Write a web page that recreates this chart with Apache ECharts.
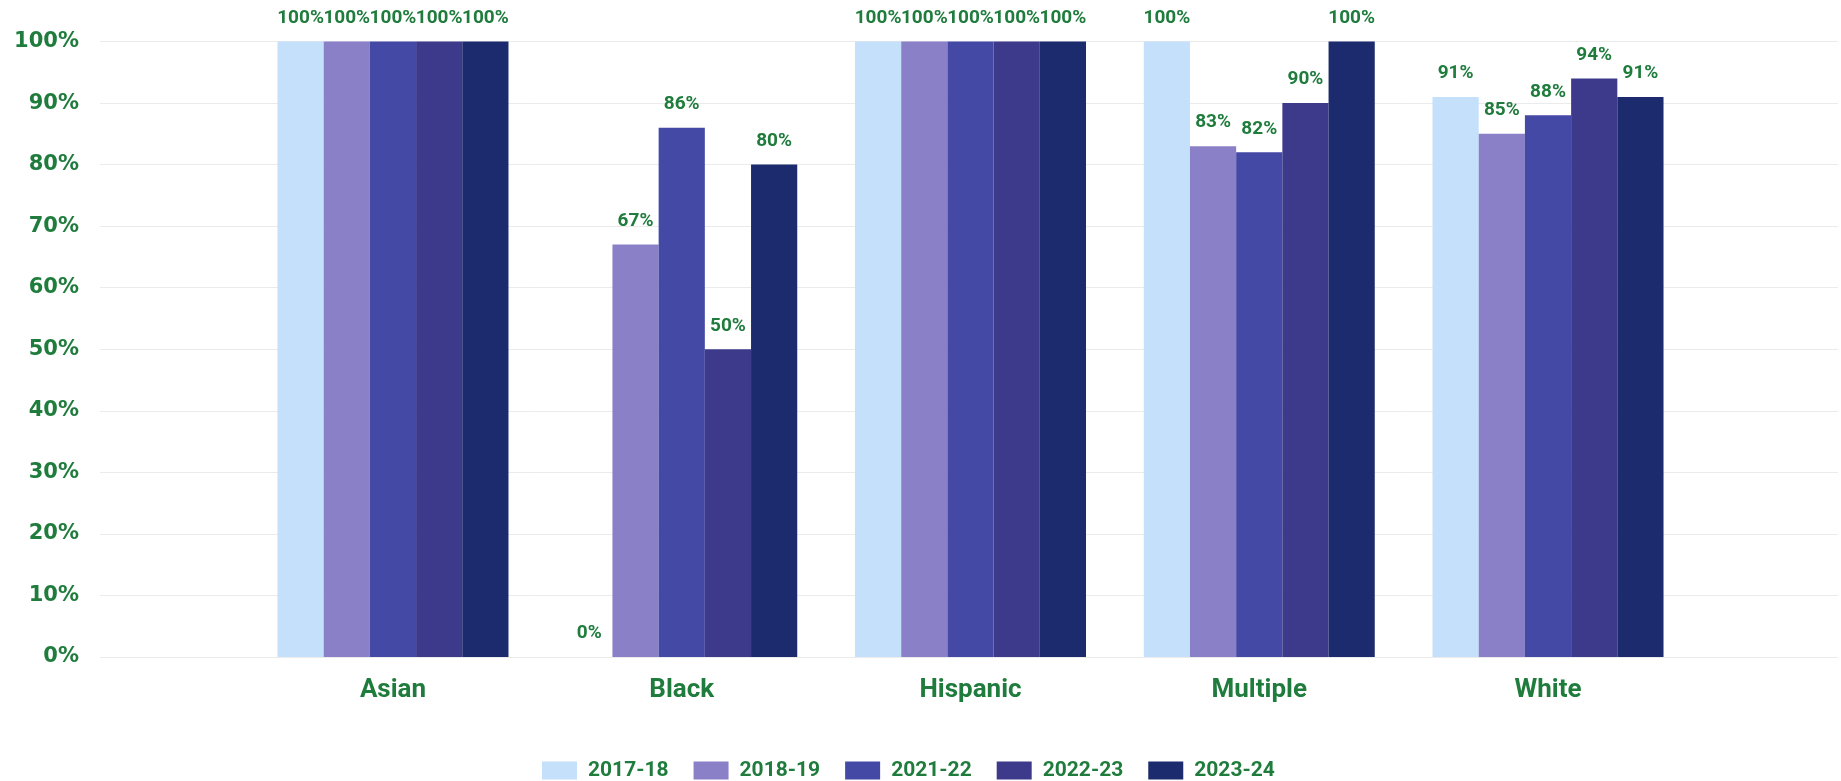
<!DOCTYPE html>
<html>
<head>
<meta charset="utf-8">
<script src="https://cdn.jsdelivr.net/npm/echarts@6/dist/echarts.min.js"></script>
<style>
html,body{margin:0;padding:0;background:#fff;}
#chart{width:1841px;height:781px;}
</style>
</head>
<body>
<div id="chart"></div>
<script>
const categories = ['Asian', 'Black', 'Hispanic', 'Multiple', 'White'];
const seriesNames = ['2017-18', '2018-19', '2021-22', '2022-23', '2023-24'];
const v2017_18 = [100, 0, 100, 100, 91];
const v2018_19 = [100, 67, 100, 83, 85];
const v2021_22 = [100, 86, 100, 82, 88];
const v2022_23 = [100, 50, 100, 90, 94];
const v2023_24 = [100, 80, 100, 100, 91];
const yTicks = [0, 10, 20, 30, 40, 50, 60, 70, 80, 90, 100];

const seriesValues = [v2017_18, v2018_19, v2021_22, v2022_23, v2023_24];
const colors = ['#c4e0fa', '#8a80c8', '#4549a6', '#3d3a8c', '#1c2b6d'];
const green = '#1f7c3d';

const chart = echarts.init(document.getElementById('chart'), null, {renderer: 'canvas'});

const series = seriesNames.map((name, i) => ({
  name: name,
  type: 'bar',
  xAxisIndex: 1,
  yAxisIndex: 1,
  barGap: '0%',
  barCategoryGap: '20%',
  itemStyle: {color: colors[i]},
  label: {
    show: true,
    position: 'top',
    distance: 14,
    formatter: '{c}%',
    color: green,
    fontFamily: 'Roboto',
    fontWeight: 'bold',
    fontSize: 19
  },
  data: seriesValues[i]
}));

chart.setOption({
  animation: false,
  backgroundColor: '#ffffff',
  grid: [
    {left: 100, right: 3, top: 41.5, bottom: 124},
    {left: 248.6, right: 148.6, top: 41.5, bottom: 124}
  ],
  xAxis: [
    {gridIndex: 0, type: 'value', min: 0, max: 1, show: false},
    {
      gridIndex: 1,
      type: 'category',
      data: categories,
      axisLine: {show: false},
      axisTick: {show: false},
      axisLabel: {
        margin: 20,
        color: green,
        fontFamily: 'Roboto',
        fontWeight: 'bold',
        fontSize: 26
      }
    }
  ],
  yAxis: [
    {
      gridIndex: 0,
      type: 'value',
      min: yTicks[0],
      max: yTicks[yTicks.length - 1],
      interval: yTicks[1] - yTicks[0],
      axisLine: {show: false},
      axisTick: {show: false},
      splitLine: {lineStyle: {color: '#ebebeb', width: 1}},
      axisLabel: {
        margin: 21,
        formatter: '{value}%',
        color: green,
        fontFamily: 'DejaVu Sans',
        fontWeight: 'bold',
        fontSize: 21
      }
    },
    {
      gridIndex: 1,
      type: 'value',
      min: yTicks[0],
      max: yTicks[yTicks.length - 1],
      interval: yTicks[1] - yTicks[0],
      show: false,
      splitLine: {show: false}
    }
  ],
  legend: {
    data: seriesNames,
    left: 537,
    top: 755,
    icon: 'rect',
    itemWidth: 35,
    itemHeight: 18,
    itemGap: 25,
    textStyle: {
      color: green,
      fontFamily: 'Roboto',
      fontWeight: 'bold',
      fontSize: 21,
      padding: [0, 0, 0, 6]
    }
  },
  series: series
});
</script>
</body>
</html>
